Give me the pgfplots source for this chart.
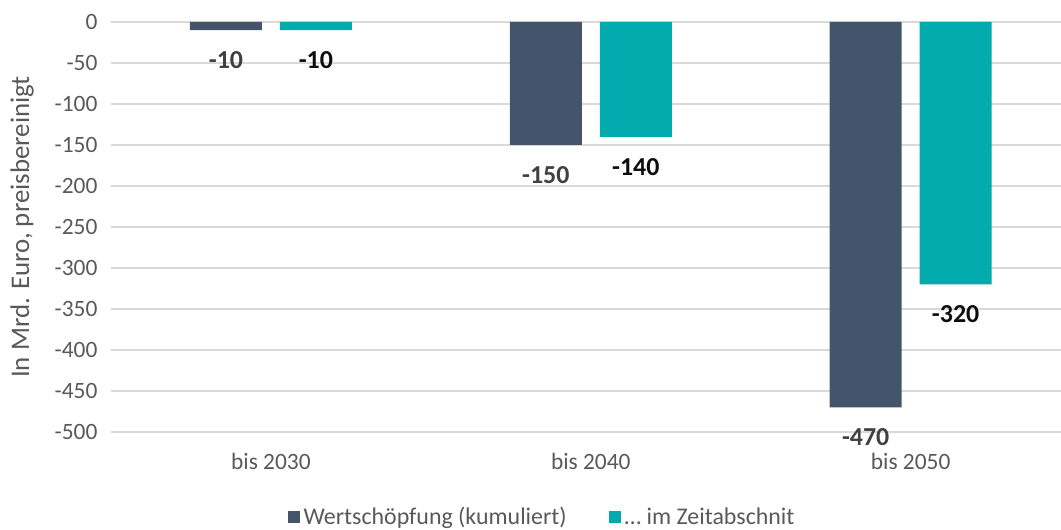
\documentclass[border=0pt]{standalone}
\usepackage{fontspec}
\setmainfont{Carlito}
\usepackage{pgfplots}
\pgfplotsset{compat=1.18}
\definecolor{cA}{HTML}{44546A}
\definecolor{cB}{HTML}{00AAAD}
\definecolor{gridc}{HTML}{D9D9D9}
\definecolor{txt}{HTML}{595959}
\begin{document}
\begin{tikzpicture}[x=1bp,y=1bp]
\path[use as bounding box] (0,0) rectangle (1061,530);
\begin{axis}[
  at={(111bp,98bp)}, anchor=south west,
  scale only axis, width=950bp, height=410bp,
  xmin=-0.5, xmax=2.47, ymin=-500, ymax=0,
  ybar, bar width=0.225,
  xtick={0,1,2}, xticklabels={bis 2030,bis 2040,bis 2050},
  ytick={-500,-450,...,0},
  major tick length=0pt,
  axis line style={draw=none},
  xmajorgrids=false, ymajorgrids=true, grid style={draw=gridc, line width=1.2bp},
  tick label style={font=\fontsize{23.5}{27}\selectfont, text=txt},
  /pgf/number format/assume math mode=true,
  yticklabel style={xshift=-10bp},
  xticklabel style={yshift=-18bp},
  ylabel={In Mrd. Euro, preisbereinigt},
  ylabel style={font=\fontsize{27}{31}\selectfont, text=txt, at={(rel axis cs:0,0.5)}, anchor=center, yshift=89bp},
  nodes near coords,
  nodes near coords style={font=\bfseries\fontsize{26}{30}\selectfont},
  every node near coord/.append style={anchor=center, yshift=-30bp},
  legend columns=2,
  legend style={draw=none, fill=none, at={(rel axis cs:0.4537,-0.207)}, anchor=center,
    font=\fontsize{24}{28}\selectfont, text=txt,
    /tikz/every even column/.append style={column sep=40bp},
    /tikz/every odd column/.append style={column sep=2bp}},
  legend image code/.code={\fill[#1] (0bp,-6bp) rectangle (12bp,6bp);},
]
\addplot[fill=cA, draw=none, bar shift=-0.1406, every node near coord/.append style={text=black!75}] coordinates {(0,-10) (1,-150) (2,-470)};
\addplot[fill=cB, draw=none, bar shift=0.1406, every node near coord/.append style={text=black!95}] coordinates {(0,-10) (1,-140) (2,-320)};
\legend{Wertschöpfung (kumuliert), … im Zeitabschnit}
\end{axis}
\end{tikzpicture}
\end{document}
